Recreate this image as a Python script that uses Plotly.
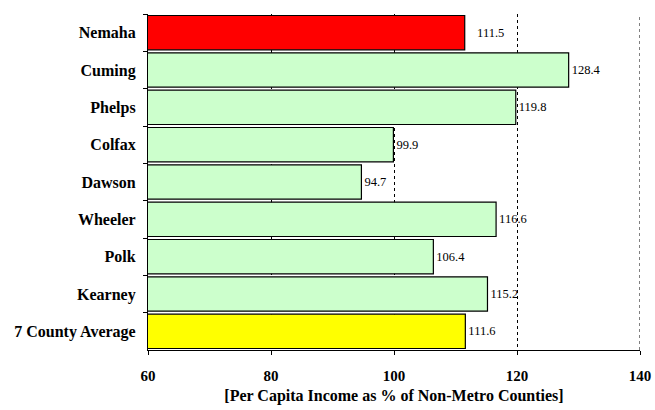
import plotly.graph_objects as go

counties = ["Nemaha", "Cuming", "Phelps", "Colfax", "Dawson", "Wheeler", "Polk", "Kearney", "7 County Average"]
values = [111.5, 128.4, 119.8, 99.9, 94.7, 116.6, 106.4, 115.2, 111.6]
bar_colors = ["#FF0000", "#CCFFCC", "#CCFFCC", "#CCFFCC", "#CCFFCC", "#CCFFCC", "#CCFFCC", "#CCFFCC", "#FFFF00"]
x_ticks = [60, 80, 100, 120, 140]

labels = [f"{v:.1f}" for v in values]
labels[0] = "   " + labels[0]

SERIF = "Liberation Serif, Times New Roman, serif"

fig = go.Figure(go.Bar(
    y=counties, x=values, orientation="h",
    marker=dict(color=bar_colors, line=dict(color="black", width=1.2)),
    text=labels, textposition="outside", cliponaxis=False,
    textfont=dict(family=SERIF, size=12.5, color="black"),
    width=0.92,
))

fig.add_shape(type="line", xref="x", yref="paper", x0=140, x1=140, y0=0, y1=1,
              line=dict(color="black", width=1, dash="dot"), layer="below")

fig.update_layout(
    width=655, height=410,
    margin=dict(l=148, r=15, t=14, b=60),
    paper_bgcolor="white", plot_bgcolor="white",
    font=dict(family=SERIF, color="black"),
    showlegend=False,
    xaxis=dict(
        range=[60, 140], tickvals=x_ticks, automargin=False,
        showline=True, linecolor="black", linewidth=1.2,
        ticks="outside", ticklen=4, tickcolor="black",
        showgrid=True, gridcolor="black", griddash="dot", gridwidth=1,
        zeroline=False, ticklabelstandoff=8,
        tickfont=dict(family=SERIF, size=15, color="black", weight="bold"),
        title=dict(text="[Per Capita Income as % of Non-Metro Counties]",
                   font=dict(family=SERIF, size=16, color="black", weight="bold"),
                   standoff=6),
    ),
    yaxis=dict(
        autorange="reversed", automargin=False,
        showline=True, linecolor="black", linewidth=1.2,
        ticks="outside", ticklen=4, tickcolor="black", tickson="boundaries",
        showgrid=False,
        tickfont=dict(family=SERIF, size=16, color="black", weight="bold"),
        ticklabelstandoff=8,
    ),
)

fig.write_html("out.html", config={"displayModeBar": False},
               post_script="document.body.style.margin='0';document.body.style.overflow='hidden';")
